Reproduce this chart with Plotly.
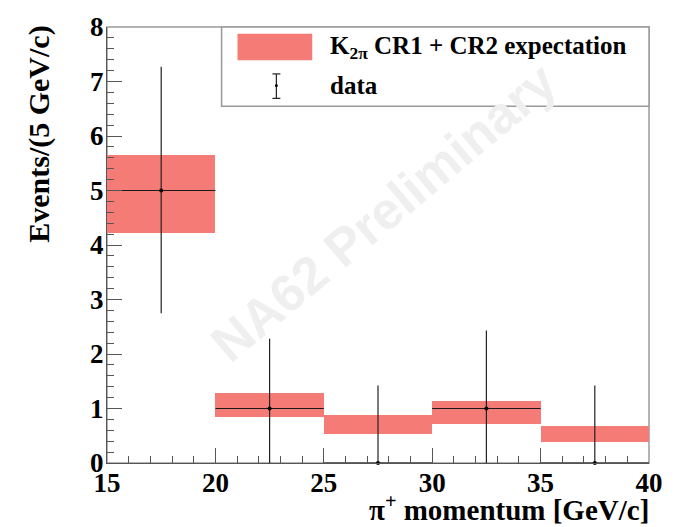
import plotly.graph_objects as go

# ---- data ----
bin_lo = [15, 20, 25, 30, 35]
bin_hi = [20, 25, 30, 35, 40]
exp_low = [4.22, 0.85, 0.53, 0.71, 0.38]
exp_high = [5.65, 1.29, 0.88, 1.13, 0.68]
data_vals = [5, 1, 0, 1, 0]
data_err_up = [2.27, 1.28, 1.42, 1.43, 1.42]
data_err_dn = [2.25, 1.0, 0.0, 1.0, 0.0]
x_ticks = [15, 20, 25, 30, 35, 40]
y_ticks = [0, 1, 2, 3, 4, 5, 6, 7, 8]

centers = [(a + b) / 2 for a, b in zip(bin_lo, bin_hi)]
widths = [b - a for a, b in zip(bin_lo, bin_hi)]
half_w = [w / 2 for w in widths]

# plot area in pixels
L, R, T, B = 107, 651, 17, 463
W, H = 675, 527


def px(x):
    return (x - L) / (R - L)


def py(y):
    return (B - y) / (B - T)


SERIF = "'Liberation Serif', 'Times New Roman', Times, 'DejaVu Serif', serif"
RED = "#f47b76"

fig = go.Figure()

fig.add_trace(go.Bar(
    x=centers,
    y=[h - l for h, l in zip(exp_high, exp_low)],
    base=exp_low,
    width=widths,
    marker=dict(color=RED, line=dict(width=0)),
    name="K2pi CR1 + CR2 expectation",
    showlegend=False,
))

fig.add_trace(go.Scatter(
    x=centers,
    y=data_vals,
    mode="markers",
    marker=dict(color="black", size=4),
    error_x=dict(type="data", array=half_w, symmetric=True, width=0,
                 color="#1a1a1a", thickness=1.2),
    error_y=dict(type="data", array=data_err_up, arrayminus=data_err_dn,
                 symmetric=False, width=0, color="#222222", thickness=1.2),
    name="data",
    showlegend=False,
    cliponaxis=False,
))

shapes = [
    # frame
    dict(type="rect", xref="paper", yref="paper", x0=0, x1=1, y0=0, y1=1,
         line=dict(color="#9a9a9a", width=1.5), layer="below"),
    # legend box
    dict(type="rect", xref="paper", yref="paper", x0=px(222), x1=px(651),
         y0=py(98), y1=py(17), line=dict(color="#9a9a9a", width=1.5),
         fillcolor="white", layer="above"),
    # legend swatch
    dict(type="rect", xref="paper", yref="paper", x0=px(238), x1=px(313),
         y0=py(51), y1=py(24), line=dict(width=0), fillcolor=RED, layer="above"),
    # legend error bar
    dict(type="line", xref="paper", yref="paper", x0=px(277), x1=px(277),
         y0=py(90), y1=py(65), line=dict(color="#222", width=1.2), layer="above"),
    dict(type="line", xref="paper", yref="paper", x0=px(273), x1=px(281),
         y0=py(65), y1=py(65), line=dict(color="#222", width=1.2), layer="above"),
    dict(type="line", xref="paper", yref="paper", x0=px(273), x1=px(281),
         y0=py(90), y1=py(90), line=dict(color="#222", width=1.2), layer="above"),
    dict(type="circle", xref="paper", yref="paper", x0=px(275.5), x1=px(278.5),
         y0=py(78.5), y1=py(75.5), line=dict(width=0), fillcolor="black",
         layer="above"),
]

annotations = [
    dict(text="<b>NA62 Preliminary</b>", xref="paper", yref="paper",
         x=px(385), y=py(206), showarrow=False, textangle=-40,
         font=dict(family="'Liberation Sans', Arial, sans-serif", size=52,
                   color="#efefef")),
    dict(text="<b>K<sub>2π</sub> CR1 + CR2 expectation</b>", xref="paper", yref="paper",
         x=px(329), y=py(38), xanchor="left", yanchor="middle", showarrow=False,
         font=dict(family=SERIF, size=25, color="black")),
    dict(text="<b>data</b>", xref="paper", yref="paper",
         x=px(329), y=py(77), xanchor="left", yanchor="middle", showarrow=False,
         font=dict(family=SERIF, size=25, color="black")),
    dict(text="<b>Events/(5 GeV/c)</b>", xref="paper", yref="paper",
         x=px(38), y=py(127), xanchor="center", yanchor="middle", showarrow=False,
         textangle=-90,
         font=dict(family=SERIF, size=30, color="black")),
    dict(text="<b>π<sup>+</sup> momentum [GeV/c]</b>", xref="paper", yref="paper",
         x=px(653), y=py(509), xanchor="right", yanchor="middle", showarrow=False,
         font=dict(family=SERIF, size=29, color="black")),
]

fig.update_layout(
    width=W, height=H,
    margin=dict(l=L, r=W - R, t=T, b=H - B),
    paper_bgcolor="white", plot_bgcolor="white",
    bargap=0,
    font=dict(family=SERIF),
    shapes=shapes,
    annotations=annotations,
    xaxis=dict(
        range=[15, 40], tickmode="array", tickvals=x_ticks,
        ticktext=[f"<b>{v}</b>" for v in x_ticks],
        ticks="inside", ticklen=15, tickwidth=1, tickcolor="#555",
        minor=dict(dtick=1, ticks="inside", ticklen=7, tickcolor="#555"),
        showgrid=False, zeroline=False, showline=True, linecolor="#555",
        linewidth=1.2, ticklabelstandoff=-5,
        tickfont=dict(family=SERIF, size=27, color="black"),
    ),
    yaxis=dict(
        range=[0, 8], tickmode="array", tickvals=y_ticks,
        ticktext=[f"<b>{v}</b>" for v in y_ticks],
        ticks="inside", ticklen=15, tickwidth=1, tickcolor="#555",
        minor=dict(dtick=0.2, ticks="inside", ticklen=7, tickcolor="#555"),
        showgrid=False, zeroline=False, showline=True, linecolor="#555",
        linewidth=1.2, ticklabelstandoff=-3,
        tickfont=dict(family=SERIF, size=27, color="black"),
    ),
)

fig.write_html("out.html")
